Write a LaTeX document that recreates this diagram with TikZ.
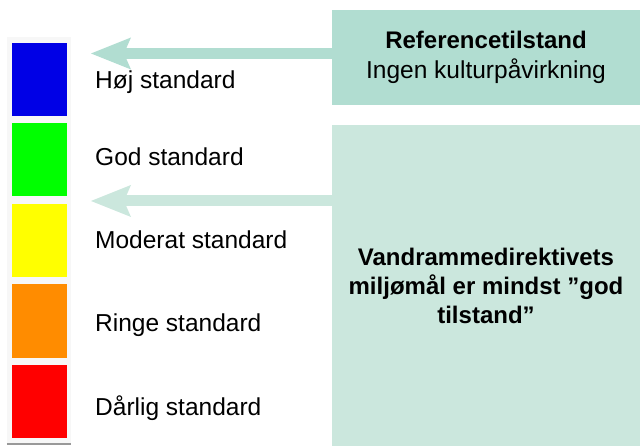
\documentclass[tikz,border=0pt]{standalone}
\usepackage{fontspec}
\setmainfont{Liberation Sans}
\usetikzlibrary{arrows.meta, positioning}

\definecolor{hoejfarve}{HTML}{0000E6}
\definecolor{godfarve}{HTML}{00FF00}
\definecolor{moderatfarve}{HTML}{FFFF00}
\definecolor{ringefarve}{HTML}{FF8C00}
\definecolor{daarligfarve}{HTML}{FF0000}
\definecolor{refgroen}{HTML}{B1DDD1}
\definecolor{maalgroen}{HTML}{CBE7DD}

\begin{document}
\begin{tikzpicture}[
  x=1pt, y=-1pt,
  node distance=7.5pt,
  swatch/.style={rectangle, minimum width=55pt, minimum height=73pt,
                 inner sep=0pt, outer sep=0pt},
  lbl/.style={anchor=base west, inner sep=0pt,
              font=\fontsize{24.5}{30}\selectfont},
  panel/.style={rectangle, inner sep=0pt, outer sep=0pt, align=center,
                minimum width=308pt, font=\fontsize{24.5}{30}\selectfont},
  arr/.style={line width=11pt,
              -{Stealth[length=40pt, width=32pt, inset=7pt, line width=0pt]}}
]
\useasboundingbox (0,0) rectangle (640,446);

% farveskala
\node[fill=black!3, minimum width=64pt, minimum height=407pt, inner sep=0pt] (skala) at (39,240.5) {};
\draw[black!40, line width=1.5pt] (skala.south west) -- (skala.south east);
\node[swatch, fill=hoejfarve, anchor=north west] (hoej) at (12,43) {};
\node[swatch, fill=godfarve, below=of hoej]         (god)     {};
\node[swatch, fill=moderatfarve, below=of god]      (moderat) {};
\node[swatch, fill=ringefarve, below=of moderat]    (ringe)   {};
\node[swatch, fill=daarligfarve, below=of ringe]    (daarlig) {};

\node[lbl] (hoejtxt)    at (95,89)  {Høj standard};
\node[lbl] (godtxt)     at (95,166) {God standard};
\node[lbl] (moderattxt) at (95,249) {Moderat standard};
\node[lbl] (ringetxt)   at (95,332) {Ringe standard};
\node[lbl] (daarligtxt) at (95,415) {Dårlig standard};

% kasser
\node[panel, fill=refgroen, minimum height=95pt] (ref) at (486,57.5)
  {{\fontsize{24}{30}\selectfont\bfseries Referencetilstand}\\Ingen kulturpåvirkning};
\node[panel, fill=maalgroen, minimum height=321pt,
      font=\fontsize{24}{29}\selectfont\bfseries] (maal) at (486,285.5)
  {Vandrammedirektivets\\miljømål er mindst ”god\\tilstand”};

% pile
\coordinate (spids1) at (91,53.5);
\coordinate (spids2) at (91,201);
\draw[arr, draw=refgroen] (ref.west |- spids1) -- (spids1);
\draw[arr, draw=maalgroen] (maal.west |- spids2) -- (spids2);
\end{tikzpicture}
\end{document}
